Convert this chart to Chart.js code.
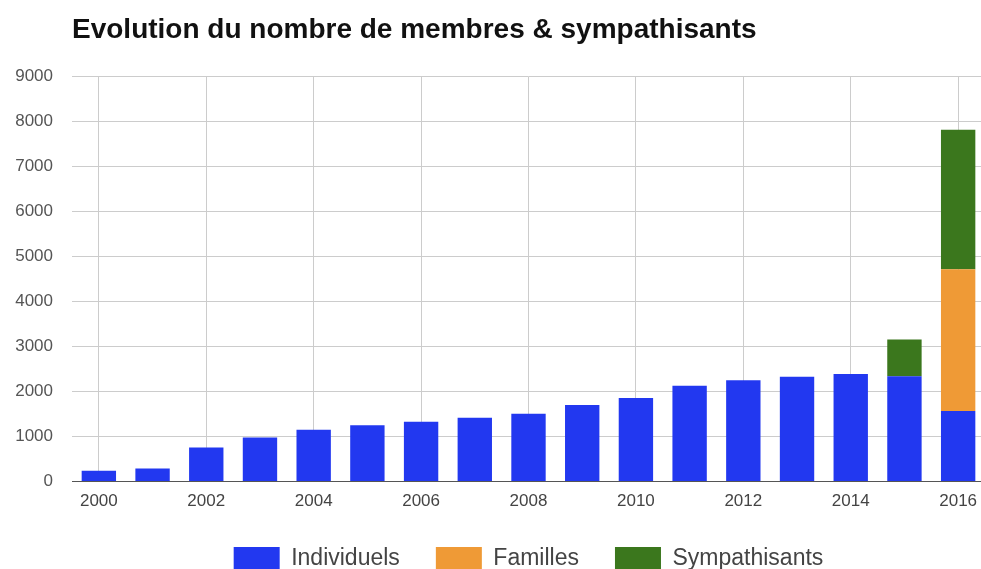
<!DOCTYPE html>
<html>
<head>
<meta charset="utf-8">
<script src="https://cdn.jsdelivr.net/npm/chart.js@4.4.1/dist/chart.umd.min.js"></script>
<style>
  html, body { margin: 0; padding: 0; background: #fff; overflow: hidden; }
  #wrap { width: 990px; height: 581px; }
</style>
</head>
<body>
<div id="wrap"><canvas id="membresChart" width="990" height="581"></canvas></div>
<script>
// valeurs
const annees = ['2000', '2001', '2002', '2003', '2004', '2005', '2006', '2007', '2008',
    '2009', '2010', '2011', '2012', '2013', '2014', '2015', '2016'];
const individuels = [240, 290, 760, 980, 1150, 1250, 1330, 1420, 1510, 1700, 1860, 2130, 2250, 2330, 2390, 2340, 1570];
const familles = [0, 0, 0, 0, 0, 0, 0, 0, 0, 0, 0, 0, 0, 0, 0, 0, 3150];
const sympathisants = [0, 0, 0, 0, 0, 0, 0, 0, 0, 0, 0, 0, 0, 0, 0, 820, 3100];
const yTicks = [0, 1000, 2000, 3000, 4000, 5000, 6000, 7000, 8000, 9000];

const police = "'Liberation Sans', Arial, sans-serif";

const membresChart = new Chart(document.getElementById('membresChart'), {
    type: 'bar',
    data: {
        labels: annees,
        datasets: [
            { label: 'Individuels', data: individuels, backgroundColor: '#2238f0' },
            { label: 'Familles', data: familles, backgroundColor: '#ef9a36' },
            { label: 'Sympathisants', data: sympathisants, backgroundColor: '#3b771d' }
        ]
    },
    options: {
        responsive: false,
        animation: false,
        devicePixelRatio: 1,
        layout: { padding: { left: 0, right: 5, top: 0, bottom: 0 } },
        datasets: { bar: { categoryPercentage: 1, barPercentage: 0.64 } },
        scales: {
            x: {
                stacked: true,
                afterFit: (scale) => { scale.height -= 11; },
                grid: {
                    offset: false,
                    drawTicks: false,
                    color: (ctx) => (ctx.index % 2 === 0 ? '#cccccc' : 'rgba(0,0,0,0)')
                },
                border: { color: '#555555', width: 1 },
                ticks: {
                    autoSkip: false,
                    maxRotation: 0,
                    padding: 10,
                    color: '#444444',
                    font: { family: police, size: 17 },
                    callback: function (val, i) { return i % 2 === 0 ? this.getLabelForValue(val) : ''; }
                }
            },
            y: {
                stacked: true,
                min: 0,
                max: 9000,
                afterBuildTicks: (scale) => { scale.ticks = yTicks.map(v => ({ value: v })); },
                afterFit: (scale) => { scale.width = 72; },
                grid: { color: '#cccccc', drawTicks: false },
                border: { display: false },
                ticks: {
                    padding: 19,
                    color: '#555555',
                    font: { family: police, size: 17 },
                    callback: (v) => String(v)
                }
            }
        },
        plugins: {
            title: {
                display: true,
                text: 'Evolution du nombre de membres & sympathisants',
                align: 'start',
                fullSize: false,
                color: '#111111',
                font: { family: police, size: 28, weight: 'bold' },
                padding: { top: 13, bottom: 30 }
            },
            legend: {
                position: 'bottom',
                fullSize: false,
                labels: {
                    boxWidth: 46,
                    boxHeight: 24,
                    padding: 36,
                    color: '#444444',
                    font: { family: police, size: 23 }
                }
            },
            tooltip: { enabled: false }
        }
    }
});
</script>
</body>
</html>
